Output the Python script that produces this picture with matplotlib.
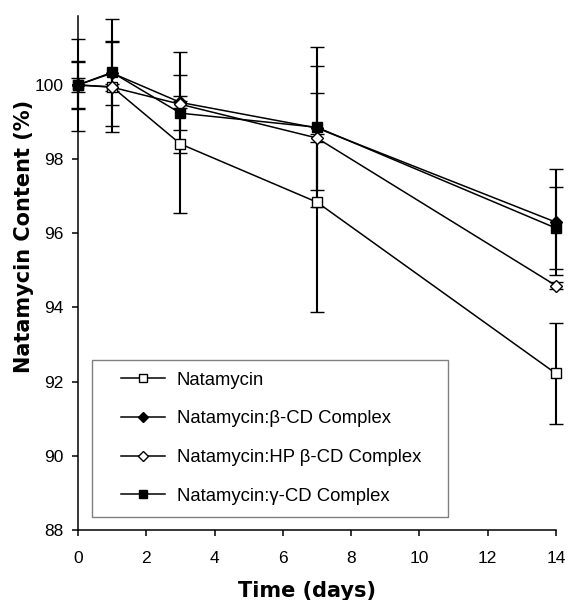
import matplotlib
matplotlib.use("Agg")
import matplotlib.pyplot as plt
from matplotlib.patches import Rectangle

# data
days = [0, 1, 3, 7, 14]

natamycin = [100.0, 99.95, 98.41, 96.84, 92.22]
natamycin_err = [0.63, 1.21, 1.87, 2.95, 1.35]

beta_cd = [100.0, 100.32, 99.53, 98.84, 96.30]
beta_cd_err = [1.25, 0.87, 1.37, 1.66, 1.43]

hp_beta_cd = [100.0, 99.94, 99.48, 98.57, 94.59]
hp_beta_cd_err = [0.65, 0.10, 0.10, 0.10, 0.10]

gamma_cd = [100.0, 100.34, 99.24, 98.86, 96.14]
gamma_cd_err = [0.20, 1.45, 0.45, 2.16, 1.10]

labels = [
    "Natamycin",
    "Natamycin:\u03b2-CD Complex",
    "Natamycin:HP \u03b2-CD Complex",
    "Natamycin:\u03b3-CD Complex",
]

x_ticks = [0, 2, 4, 6, 8, 10, 12, 14]
y_ticks = [88, 90, 92, 94, 96, 98, 100]

series = [
    (natamycin, natamycin_err, "s", "white", 7.0),
    (beta_cd, beta_cd_err, "D", "black", 6.0),
    (hp_beta_cd, hp_beta_cd_err, "D", "white", 6.0),
    (gamma_cd, gamma_cd_err, "s", "black", 7.0),
]

tick_font = "Liberation Sans"

fig = plt.figure(figsize=(5.69, 6.0), dpi=100)
ax = fig.add_axes([0.137, 0.1167, 0.840, 0.856])

handles = []
for (vals, err, marker, face, ms), label in zip(series, labels):
    cont = ax.errorbar(
        days, vals, yerr=err,
        fmt="-", marker=marker, color="black",
        mfc=face, mec="black", mew=1.0, ms=ms, lw=1.1,
        elinewidth=1.5, capsize=5, capthick=1.5,
        label=label,
    )
    handles.append(cont.lines[0])

for art in ax.get_children():
    if hasattr(art, "set_clip_on"):
        art.set_clip_on(False)

ax.set_xlim(0, 14)
ax.set_ylim(88, 101.85)
ax.set_xticks(x_ticks)
ax.set_yticks(y_ticks)

for side in ["top", "right"]:
    ax.spines[side].set_visible(False)
for side in ["left", "bottom"]:
    ax.spines[side].set_linewidth(1.1)

ax.tick_params(axis="x", direction="out", length=4, width=1.1, pad=11)
ax.tick_params(axis="y", direction="out", length=4.5, width=1.1, pad=6)
for lab in ax.get_xticklabels() + ax.get_yticklabels():
    lab.set_fontfamily(tick_font)
    lab.set_fontsize(12.5)

ax.set_xlabel("Time (days)", fontsize=15, fontweight="bold", family="DejaVu Sans")
ax.set_ylabel("Natamycin Content (%)", fontsize=15, fontweight="bold", family="DejaVu Sans")
ax.xaxis.set_label_coords(0.48, -0.1)
ax.yaxis.set_label_coords(-0.093, 0.571)

# legend box
box = Rectangle((0.0297, 0.0251), 0.744, 0.3068, transform=ax.transAxes,
                facecolor="white", edgecolor="#808080", lw=1.0, zorder=4)
ax.add_patch(box)

leg = ax.legend(
    handles, labels,
    loc="upper left", bbox_to_anchor=(0.0900, 0.308),
    frameon=False, borderpad=0, borderaxespad=0,
    numpoints=1, handlelength=2.4, handletextpad=0.62,
    labelspacing=1.17, markerscale=0.8,
    prop={"family": tick_font, "size": 13.3},
)
leg.set_zorder(5)

plt.savefig("out.png", dpi=100)
plt.close()
